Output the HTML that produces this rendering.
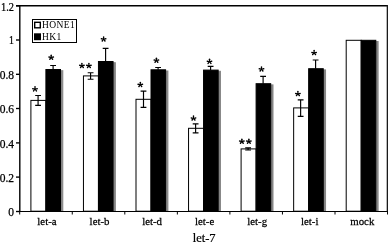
<!DOCTYPE html>
<html><head><meta charset="utf-8"><style>
html,body{margin:0;padding:0;background:#fff;width:388px;height:245px;overflow:hidden;}
svg{display:block;font-family:"Liberation Serif",serif;will-change:transform;}
text{stroke:#000;stroke-width:0.25px;}
</style></head><body>
<svg width="388" height="245" viewBox="0 0 388 245">
<defs><g id="ast" fill="#000"><path d="M-0.4 0L-0.75 -2.25A0.75 0.75 0 0 1 0.75 -2.25L0.4 0Z" transform="rotate(0)"/><path d="M-0.4 0L-0.75 -2.25A0.75 0.75 0 0 1 0.75 -2.25L0.4 0Z" transform="rotate(80)"/><path d="M-0.4 0L-0.75 -2.25A0.75 0.75 0 0 1 0.75 -2.25L0.4 0Z" transform="rotate(142)"/><path d="M-0.4 0L-0.75 -2.25A0.75 0.75 0 0 1 0.75 -2.25L0.4 0Z" transform="rotate(218)"/><path d="M-0.4 0L-0.75 -2.25A0.75 0.75 0 0 1 0.75 -2.25L0.4 0Z" transform="rotate(280)"/><circle r="0.9"/></g></defs>
<rect x="0" y="0" width="388" height="245" fill="#fff"/>
<rect x="30.90" y="100.40" width="15.00" height="110.80" fill="#fff" stroke="#000" stroke-width="1"/>
<rect x="48.20" y="70.70" width="14.60" height="140.50" fill="#858585" stroke="#858585" stroke-width="1"/>
<rect x="45.90" y="69.50" width="14.60" height="141.70" fill="#000" stroke="#000" stroke-width="1"/>
<path d="M38.08 95.50V105.30M35.18 95.50H40.98M35.18 105.30H40.98" stroke="#000" stroke-width="1.15" fill="none"/>
<path d="M53.10 65.50V69.50M50.20 65.50H56.00" stroke="#000" stroke-width="1.15" fill="none"/>
<rect x="83.45" y="75.90" width="15.00" height="135.30" fill="#fff" stroke="#000" stroke-width="1"/>
<rect x="100.75" y="62.70" width="14.60" height="148.50" fill="#858585" stroke="#858585" stroke-width="1"/>
<rect x="98.45" y="61.50" width="14.60" height="149.70" fill="#000" stroke="#000" stroke-width="1"/>
<path d="M90.59 72.70V79.20M87.69 72.70H93.49M87.69 79.20H93.49" stroke="#000" stroke-width="1.15" fill="none"/>
<path d="M105.60 48.30V61.50M102.70 48.30H108.50" stroke="#000" stroke-width="1.15" fill="none"/>
<rect x="136.00" y="99.30" width="15.00" height="111.90" fill="#fff" stroke="#000" stroke-width="1"/>
<rect x="153.30" y="71.00" width="14.60" height="140.20" fill="#858585" stroke="#858585" stroke-width="1"/>
<rect x="151.00" y="69.80" width="14.60" height="141.40" fill="#000" stroke="#000" stroke-width="1"/>
<path d="M143.50 91.10V107.30M140.60 91.10H146.40M140.60 107.30H146.40" stroke="#000" stroke-width="1.15" fill="none"/>
<path d="M158.10 67.50V69.80M155.20 67.50H161.00" stroke="#000" stroke-width="1.15" fill="none"/>
<rect x="188.55" y="128.30" width="15.00" height="82.90" fill="#fff" stroke="#000" stroke-width="1"/>
<rect x="205.85" y="71.30" width="14.60" height="139.90" fill="#858585" stroke="#858585" stroke-width="1"/>
<rect x="203.55" y="70.10" width="14.60" height="141.10" fill="#000" stroke="#000" stroke-width="1"/>
<path d="M195.61 123.80V132.80M192.71 123.80H198.51M192.71 132.80H198.51" stroke="#000" stroke-width="1.15" fill="none"/>
<path d="M210.60 66.40V70.10M207.70 66.40H213.50" stroke="#000" stroke-width="1.15" fill="none"/>
<rect x="241.10" y="148.90" width="15.00" height="62.30" fill="#fff" stroke="#000" stroke-width="1"/>
<rect x="258.40" y="84.90" width="14.60" height="126.30" fill="#858585" stroke="#858585" stroke-width="1"/>
<rect x="256.10" y="83.70" width="14.60" height="127.50" fill="#000" stroke="#000" stroke-width="1"/>
<path d="M248.12 147.90V150.00M245.22 147.90H251.02M245.22 150.00H251.02" stroke="#000" stroke-width="1.15" fill="none"/>
<path d="M263.10 76.40V83.70M260.20 76.40H266.00" stroke="#000" stroke-width="1.15" fill="none"/>
<rect x="293.65" y="107.90" width="15.00" height="103.30" fill="#fff" stroke="#000" stroke-width="1"/>
<rect x="310.95" y="69.90" width="14.60" height="141.30" fill="#858585" stroke="#858585" stroke-width="1"/>
<rect x="308.65" y="68.70" width="14.60" height="142.50" fill="#000" stroke="#000" stroke-width="1"/>
<path d="M300.63 99.80V116.30M297.73 99.80H303.53M297.73 116.30H303.53" stroke="#000" stroke-width="1.15" fill="none"/>
<path d="M315.60 60.00V68.70M312.70 60.00H318.50" stroke="#000" stroke-width="1.15" fill="none"/>
<rect x="346.20" y="40.30" width="15.00" height="170.90" fill="#fff" stroke="#000" stroke-width="1"/>
<rect x="363.50" y="41.50" width="14.60" height="169.70" fill="#858585" stroke="#858585" stroke-width="1"/>
<rect x="361.20" y="40.30" width="14.60" height="170.90" fill="#000" stroke="#000" stroke-width="1"/>
<path d="M19.8 5.8V211.5" stroke="#000" stroke-width="1.4" fill="none"/>
<path d="M16 5.8H388" stroke="#000" stroke-width="1.5" fill="none"/>
<path d="M16 211.5H387" stroke="#000" stroke-width="1.1" fill="none"/>
<path d="M387.4 5.0V212.0" stroke="#1a1a1a" stroke-width="1.4" fill="none"/>
<path d="M16 211.50H19.8" stroke="#000" stroke-width="1.35"/>
<text transform="translate(14.0 215.80) scale(1.0 1)" text-anchor="end" font-family="Liberation Serif" font-size="11.5">0</text>
<path d="M16 177.10H19.8" stroke="#000" stroke-width="1.35"/>
<text transform="translate(14.0 181.70) scale(1.0 1)" text-anchor="end" font-family="Liberation Serif" font-size="11.5">0.2</text>
<path d="M16 142.90H19.8" stroke="#000" stroke-width="1.35"/>
<text transform="translate(14.0 147.50) scale(1.0 1)" text-anchor="end" font-family="Liberation Serif" font-size="11.5">0.4</text>
<path d="M16 108.50H19.8" stroke="#000" stroke-width="1.35"/>
<text transform="translate(14.0 113.10) scale(1.0 1)" text-anchor="end" font-family="Liberation Serif" font-size="11.5">0.6</text>
<path d="M16 74.30H19.8" stroke="#000" stroke-width="1.35"/>
<text transform="translate(14.0 78.90) scale(1.0 1)" text-anchor="end" font-family="Liberation Serif" font-size="11.5">0.8</text>
<path d="M16 40.00H19.8" stroke="#000" stroke-width="1.35"/>
<text transform="translate(14.0 44.10) scale(0.85 1)" text-anchor="end" font-family="Liberation Serif" font-size="11.5">1</text>
<path d="M16 5.80H19.8" stroke="#000" stroke-width="1.35"/>
<text transform="translate(14.0 10.60) scale(0.9 1)" text-anchor="end" font-family="Liberation Serif" font-size="11.5">1.2</text>
<path d="M19.70 211.2V214.5" stroke="#000" stroke-width="1"/>
<path d="M72.25 211.2V214.5" stroke="#000" stroke-width="1"/>
<path d="M124.80 211.2V214.5" stroke="#000" stroke-width="1"/>
<path d="M177.35 211.2V214.5" stroke="#000" stroke-width="1"/>
<path d="M229.90 211.2V214.5" stroke="#000" stroke-width="1"/>
<path d="M282.45 211.2V214.5" stroke="#000" stroke-width="1"/>
<path d="M335.00 211.2V214.5" stroke="#000" stroke-width="1"/>
<path d="M387.55 211.2V214.5" stroke="#000" stroke-width="1"/>
<text transform="translate(46.97 225.3) scale(0.95 1)" text-anchor="middle" font-family="Liberation Serif" font-size="11.4">let-a</text>
<text transform="translate(99.53 225.3) scale(0.95 1)" text-anchor="middle" font-family="Liberation Serif" font-size="11.4">let-b</text>
<text transform="translate(152.07 225.3) scale(0.95 1)" text-anchor="middle" font-family="Liberation Serif" font-size="11.4">let-d</text>
<text transform="translate(204.62 225.3) scale(0.95 1)" text-anchor="middle" font-family="Liberation Serif" font-size="11.4">let-e</text>
<text transform="translate(257.17 225.3) scale(0.95 1)" text-anchor="middle" font-family="Liberation Serif" font-size="11.4">let-g</text>
<text transform="translate(309.72 225.3) scale(0.95 1)" text-anchor="middle" font-family="Liberation Serif" font-size="11.4">let-i</text>
<text transform="translate(362.27 225.3) scale(0.95 1)" text-anchor="middle" font-family="Liberation Serif" font-size="11.4">mock</text>
<text transform="translate(204.1 241.6) scale(0.94 1)" text-anchor="middle" font-family="Liberation Serif" font-size="13.3">let-7</text>
<use href="#ast" x="35.00" y="89.10"/>
<use href="#ast" x="51.20" y="57.50"/>
<use href="#ast" x="81.90" y="65.75"/><use href="#ast" x="88.90" y="65.75"/>
<use href="#ast" x="103.60" y="39.20"/>
<use href="#ast" x="140.30" y="84.70"/>
<use href="#ast" x="156.40" y="60.40"/>
<use href="#ast" x="193.50" y="118.30"/>
<use href="#ast" x="209.50" y="61.60"/>
<use href="#ast" x="241.85" y="141.50"/><use href="#ast" x="248.85" y="141.50"/>
<use href="#ast" x="261.50" y="69.20"/>
<use href="#ast" x="297.90" y="93.80"/>
<use href="#ast" x="314.10" y="52.80"/>
<rect x="32.5" y="19.5" width="44" height="23" fill="#fff" stroke="#000" stroke-width="1"/>
<rect x="34.7" y="22.3" width="5.6" height="5.5" fill="#fff" stroke="#000" stroke-width="1.4"/>
<rect x="34.7" y="34.0" width="5.6" height="5.5" fill="#000" stroke="#000" stroke-width="1.4"/>
<text x="42.0" y="28.2" font-family="Liberation Serif" font-size="9.5" letter-spacing="0.4" style="stroke:none">HONE1</text>
<text x="42.0" y="39.8" font-family="Liberation Serif" font-size="9.5" letter-spacing="0.4" style="stroke:none">HK1</text>
</svg>
</body></html>
